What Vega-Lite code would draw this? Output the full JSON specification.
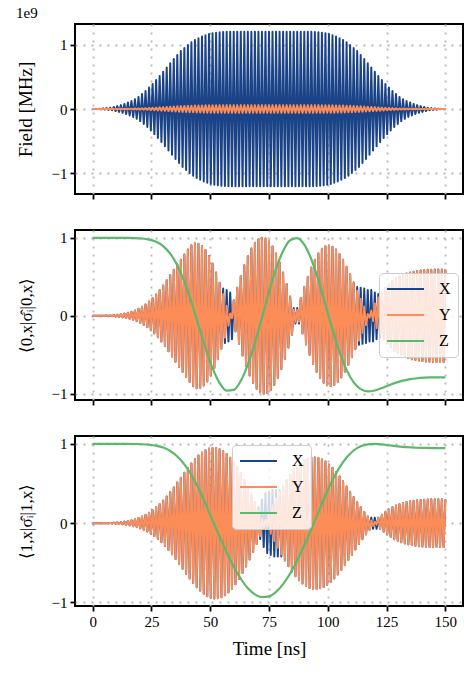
{
"$schema": "https://vega.github.io/schema/vega-lite/v6.json",
"background": "white",
"padding": {"left": 15, "top": 5, "right": 5, "bottom": 5},
"spacing": 28,
"config": {
  "font": "Liberation Serif",
  "view": {"stroke": "black", "strokeWidth": 2},
  "axis": {"domain": false, "grid": true, "gridColor": "#b8b8b8", "gridDash": [2, 6], "gridWidth": 1.8, "ticks": true, "tickColor": "black", "tickSize": 5, "tickWidth": 1.8, "labelFont": "Liberation Serif", "labelFontSize": 15, "labelColor": "black", "labelPadding": 3, "titleFont": "Liberation Serif", "titleFontSize": 19, "titleFontWeight": "normal", "titleColor": "black"},
  "axisX": {"labelFont": "Liberation Serif", "titleFont": "Liberation Serif", "titleFontWeight": "normal"},
  "axisY": {"labelFont": "Liberation Serif", "titleFont": "Liberation Serif", "titleFontWeight": "normal", "titlePadding": 16},
  "legend": {"title": null, "symbolType": "stroke", "symbolSize": 1369, "symbolStrokeWidth": 2, "clipHeight": 18, "rowPadding": 8, "labelOffset": 14, "labelFont": "Liberation Serif", "labelFontSize": 16, "labelColor": "black", "padding": 7, "fillColor": "rgba(255,255,255,0.8)", "strokeColor": "#cccccc", "cornerRadius": 4},
  "title": {"font": "Liberation Serif", "fontSize": 15, "fontWeight": "normal", "anchor": "start", "offset": 3, "color": "black"}
},
"resolve": {"scale": {"color": "independent"}, "legend": {"color": "independent"}},
"datasets": {
"osc": [
{"t":0,"a":0,"b":0,"c":0,"d":0,"e":0,"f":0},{"t":0.75,"a":0,"b":0,"c":0,"d":0,"e":0,"f":0},
{"t":1.5,"a":0.002,"b":0,"c":0,"d":0,"e":0,"f":0},{"t":2.25,"a":-0.002,"b":0,"c":0,"d":0,"e":0,"f":0},
{"t":3,"a":0.004,"b":0,"c":0.001,"d":0.001,"e":0,"f":0},{"t":3.75,"a":-0.004,"b":0,"c":-0.001,"d":-0.001,"e":0,"f":0},
{"t":4.5,"a":0.009,"b":0,"c":0.001,"d":0.001,"e":0.001,"f":0.001},{"t":5.25,"a":-0.009,"b":0,"c":-0.001,"d":-0.001,"e":-0.001,"f":-0.001},
{"t":6,"a":0.014,"b":0.001,"c":0.003,"d":0.003,"e":0.002,"f":0.002},{"t":6.75,"a":-0.014,"b":-0.001,"c":-0.003,"d":-0.003,"e":-0.002,"f":-0.002},
{"t":7.5,"a":0.02,"b":0.001,"c":0.005,"d":0.005,"e":0.004,"f":0.004},{"t":8.25,"a":-0.02,"b":-0.001,"c":-0.005,"d":-0.005,"e":-0.004,"f":-0.004},
{"t":9,"a":0.032,"b":0.002,"c":0.008,"d":0.008,"e":0.006,"f":0.006},{"t":9.75,"a":-0.032,"b":-0.002,"c":-0.008,"d":-0.008,"e":-0.006,"f":-0.006},
{"t":10.5,"a":0.045,"b":0.002,"c":0.013,"d":0.013,"e":0.01,"f":0.01},{"t":11.25,"a":-0.045,"b":-0.002,"c":-0.013,"d":-0.013,"e":-0.01,"f":-0.01},
{"t":12,"a":0.06,"b":0.003,"c":0.02,"d":0.02,"e":0.014,"f":0.014},{"t":12.75,"a":-0.06,"b":-0.003,"c":-0.02,"d":-0.02,"e":-0.014,"f":-0.014},
{"t":13.5,"a":0.079,"b":0.004,"c":0.028,"d":0.028,"e":0.02,"f":0.02},{"t":14.25,"a":-0.079,"b":-0.004,"c":-0.028,"d":-0.028,"e":-0.02,"f":-0.02},
{"t":15,"a":0.1,"b":0.005,"c":0.038,"d":0.038,"e":0.028,"f":0.028},{"t":15.75,"a":-0.1,"b":-0.005,"c":-0.038,"d":-0.038,"e":-0.028,"f":-0.028},
{"t":16.5,"a":0.124,"b":0.006,"c":0.053,"d":0.053,"e":0.038,"f":0.038},{"t":17.25,"a":-0.124,"b":-0.006,"c":-0.053,"d":-0.053,"e":-0.038,"f":-0.038},
{"t":18,"a":0.152,"b":0.008,"c":0.069,"d":0.069,"e":0.05,"f":0.05},{"t":18.75,"a":-0.152,"b":-0.008,"c":-0.069,"d":-0.069,"e":-0.05,"f":-0.05},
{"t":19.5,"a":0.188,"b":0.009,"c":0.09,"d":0.09,"e":0.065,"f":0.065},{"t":20.25,"a":-0.188,"b":-0.009,"c":-0.09,"d":-0.09,"e":-0.065,"f":-0.065},
{"t":21,"a":0.232,"b":0.012,"c":0.116,"d":0.116,"e":0.084,"f":0.084},{"t":21.75,"a":-0.232,"b":-0.012,"c":-0.116,"d":-0.116,"e":-0.084,"f":-0.084},
{"t":22.5,"a":0.28,"b":0.014,"c":0.145,"d":0.145,"e":0.105,"f":0.105},{"t":23.25,"a":-0.28,"b":-0.014,"c":-0.145,"d":-0.145,"e":-0.105,"f":-0.105},
{"t":24,"a":0.334,"b":0.017,"c":0.184,"d":0.184,"e":0.133,"f":0.133},{"t":24.75,"a":-0.334,"b":-0.017,"c":-0.184,"d":-0.184,"e":-0.133,"f":-0.133},
{"t":25.5,"a":0.39,"b":0.02,"c":0.225,"d":0.225,"e":0.163,"f":0.163},{"t":26.25,"a":-0.39,"b":-0.02,"c":-0.225,"d":-0.225,"e":-0.163,"f":-0.163},
{"t":27,"a":0.45,"b":0.023,"c":0.274,"d":0.274,"e":0.2,"f":0.2},{"t":27.75,"a":-0.45,"b":-0.023,"c":-0.274,"d":-0.274,"e":-0.2,"f":-0.2},
{"t":28.5,"a":0.514,"b":0.026,"c":0.329,"d":0.329,"e":0.241,"f":0.241},{"t":29.25,"a":-0.514,"b":-0.026,"c":-0.329,"d":-0.329,"e":-0.241,"f":-0.241},
{"t":30,"a":0.58,"b":0.029,"c":0.387,"d":0.387,"e":0.286,"f":0.286},{"t":30.75,"a":-0.58,"b":-0.029,"c":-0.387,"d":-0.387,"e":-0.286,"f":-0.286},
{"t":31.5,"a":0.646,"b":0.032,"c":0.455,"d":0.455,"e":0.338,"f":0.338},{"t":32.25,"a":-0.646,"b":-0.032,"c":-0.455,"d":-0.455,"e":-0.338,"f":-0.338},
{"t":33,"a":0.712,"b":0.036,"c":0.522,"d":0.522,"e":0.392,"f":0.392},{"t":33.75,"a":-0.712,"b":-0.036,"c":-0.522,"d":-0.522,"e":-0.392,"f":-0.392},
{"t":34.5,"a":0.778,"b":0.039,"c":0.59,"d":0.59,"e":0.451,"f":0.451},{"t":35.25,"a":-0.778,"b":-0.039,"c":-0.59,"d":-0.59,"e":-0.451,"f":-0.451},
{"t":36,"a":0.84,"b":0.042,"c":0.656,"d":0.656,"e":0.513,"f":0.513},{"t":36.75,"a":-0.84,"b":-0.042,"c":-0.656,"d":-0.656,"e":-0.513,"f":-0.513},
{"t":37.5,"a":0.9,"b":0.045,"c":0.719,"d":0.719,"e":0.574,"f":0.574},{"t":38.25,"a":-0.9,"b":-0.045,"c":-0.719,"d":-0.719,"e":-0.574,"f":-0.574},
{"t":39,"a":0.948,"b":0.047,"c":0.786,"d":0.786,"e":0.637,"f":0.637},{"t":39.75,"a":-0.948,"b":-0.047,"c":-0.786,"d":-0.786,"e":-0.637,"f":-0.637},
{"t":40.5,"a":0.994,"b":0.05,"c":0.849,"d":0.849,"e":0.697,"f":0.697},{"t":41.25,"a":-0.994,"b":-0.05,"c":-0.849,"d":-0.849,"e":-0.697,"f":-0.697},
{"t":42,"a":1.036,"b":0.052,"c":0.903,"d":0.903,"e":0.754,"f":0.754},{"t":42.75,"a":-1.036,"b":-0.052,"c":-0.903,"d":-0.903,"e":-0.754,"f":-0.754},
{"t":43.5,"a":1.07,"b":0.054,"c":0.93,"d":0.93,"e":0.808,"f":0.808},{"t":44.25,"a":-1.07,"b":-0.054,"c":-0.93,"d":-0.93,"e":-0.808,"f":-0.808},
{"t":45,"a":1.1,"b":0.055,"c":0.923,"d":0.923,"e":0.853,"f":0.853},{"t":45.75,"a":-1.1,"b":-0.055,"c":-0.923,"d":-0.923,"e":-0.853,"f":-0.853},
{"t":46.5,"a":1.124,"b":0.056,"c":0.894,"d":0.894,"e":0.891,"f":0.891},{"t":47.25,"a":-1.124,"b":-0.056,"c":-0.894,"d":-0.894,"e":-0.891,"f":-0.891},
{"t":48,"a":1.146,"b":0.057,"c":0.842,"d":0.842,"e":0.921,"f":0.921},{"t":48.75,"a":-1.146,"b":-0.057,"c":-0.842,"d":-0.842,"e":-0.921,"f":-0.921},
{"t":49.5,"a":1.164,"b":0.058,"c":0.767,"d":0.767,"e":0.941,"f":0.941},{"t":50.25,"a":-1.164,"b":-0.058,"c":-0.767,"d":-0.767,"e":-0.941,"f":-0.941},
{"t":51,"a":1.176,"b":0.059,"c":0.671,"d":0.671,"e":0.95,"f":0.95},{"t":51.75,"a":-1.176,"b":-0.059,"c":-0.671,"d":-0.671,"e":-0.95,"f":-0.95},
{"t":52.5,"a":1.185,"b":0.059,"c":0.556,"d":0.556,"e":0.947,"f":0.947},{"t":53.25,"a":-1.185,"b":-0.059,"c":-0.556,"d":-0.556,"e":-0.947,"f":-0.947},
{"t":54,"a":1.191,"b":0.06,"c":0.424,"d":0.424,"e":0.934,"f":0.934},{"t":54.75,"a":-1.191,"b":-0.06,"c":-0.424,"d":-0.424,"e":-0.934,"f":-0.934},
{"t":55.5,"a":1.196,"b":0.06,"c":0.35,"d":0.28,"e":0.909,"f":0.909},{"t":56.25,"a":-1.196,"b":-0.06,"c":-0.35,"d":-0.28,"e":-0.909,"f":-0.909},
{"t":57,"a":1.199,"b":0.06,"c":0.33,"d":0.128,"e":0.873,"f":0.873},{"t":57.75,"a":-1.199,"b":-0.06,"c":-0.33,"d":-0.128,"e":-0.873,"f":-0.873},
{"t":58.5,"a":1.2,"b":0.06,"c":0.3,"d":0.03,"e":0.827,"f":0.827},{"t":59.25,"a":-1.2,"b":-0.06,"c":-0.3,"d":-0.03,"e":-0.827,"f":-0.827},
{"t":60,"a":1.2,"b":0.06,"c":0.2,"d":0.197,"e":0.77,"f":0.77},{"t":60.75,"a":-1.2,"b":-0.06,"c":-0.2,"d":-0.197,"e":-0.77,"f":-0.77},
{"t":61.5,"a":1.2,"b":0.06,"c":0.358,"d":0.358,"e":0.704,"f":0.704},{"t":62.25,"a":-1.2,"b":-0.06,"c":-0.358,"d":-0.358,"e":-0.704,"f":-0.704},
{"t":63,"a":1.2,"b":0.06,"c":0.51,"d":0.51,"e":0.629,"f":0.629},{"t":63.75,"a":-1.2,"b":-0.06,"c":-0.51,"d":-0.51,"e":-0.629,"f":-0.629},
{"t":64.5,"a":1.2,"b":0.06,"c":0.647,"d":0.647,"e":0.546,"f":0.546},{"t":65.25,"a":-1.2,"b":-0.06,"c":-0.647,"d":-0.647,"e":-0.546,"f":-0.546},
{"t":66,"a":1.2,"b":0.06,"c":0.765,"d":0.765,"e":0.457,"f":0.457},{"t":66.75,"a":-1.2,"b":-0.06,"c":-0.765,"d":-0.765,"e":-0.457,"f":-0.457},
{"t":67.5,"a":1.2,"b":0.06,"c":0.862,"d":0.862,"e":0.362,"f":0.362},{"t":68.25,"a":-1.2,"b":-0.06,"c":-0.862,"d":-0.862,"e":-0.362,"f":-0.362},
{"t":69,"a":1.2,"b":0.06,"c":0.935,"d":0.935,"e":0.263,"f":0.263},{"t":69.75,"a":-1.2,"b":-0.06,"c":-0.935,"d":-0.935,"e":-0.263,"f":-0.263},
{"t":70.5,"a":1.2,"b":0.06,"c":0.981,"d":0.981,"e":0.2,"f":0.161},{"t":71.25,"a":-1.2,"b":-0.06,"c":-0.981,"d":-0.981,"e":-0.2,"f":-0.161},
{"t":72,"a":1.2,"b":0.06,"c":1,"d":1,"e":0.3,"f":0.056},{"t":72.75,"a":-1.2,"b":-0.06,"c":-1,"d":-1,"e":-0.3,"f":-0.056},
{"t":73.5,"a":1.2,"b":0.06,"c":0.99,"d":0.99,"e":0.38,"f":0.042},{"t":74.25,"a":-1.2,"b":-0.06,"c":-0.99,"d":-0.99,"e":-0.38,"f":-0.042},
{"t":75,"a":1.2,"b":0.06,"c":0.952,"d":0.952,"e":0.4,"f":0.134},{"t":75.75,"a":-1.2,"b":-0.06,"c":-0.952,"d":-0.952,"e":-0.4,"f":-0.134},
{"t":76.5,"a":1.2,"b":0.06,"c":0.887,"d":0.887,"e":0.42,"f":0.224},{"t":77.25,"a":-1.2,"b":-0.06,"c":-0.887,"d":-0.887,"e":-0.42,"f":-0.224},
{"t":78,"a":1.2,"b":0.06,"c":0.798,"d":0.798,"e":0.42,"f":0.31},{"t":78.75,"a":-1.2,"b":-0.06,"c":-0.798,"d":-0.798,"e":-0.42,"f":-0.31},
{"t":79.5,"a":1.2,"b":0.06,"c":0.685,"d":0.685,"e":0.42,"f":0.394},{"t":80.25,"a":-1.2,"b":-0.06,"c":-0.685,"d":-0.685,"e":-0.42,"f":-0.394},
{"t":81,"a":1.2,"b":0.06,"c":0.555,"d":0.555,"e":0.472,"f":0.472},{"t":81.75,"a":-1.2,"b":-0.06,"c":-0.555,"d":-0.555,"e":-0.472,"f":-0.472},
{"t":82.5,"a":1.2,"b":0.06,"c":0.408,"d":0.408,"e":0.544,"f":0.544},{"t":83.25,"a":-1.2,"b":-0.06,"c":-0.408,"d":-0.408,"e":-0.544,"f":-0.544},
{"t":84,"a":1.2,"b":0.06,"c":0.248,"d":0.248,"e":0.611,"f":0.611},{"t":84.75,"a":-1.2,"b":-0.06,"c":-0.248,"d":-0.248,"e":-0.611,"f":-0.611},
{"t":85.5,"a":1.2,"b":0.06,"c":0.1,"d":0.082,"e":0.669,"f":0.669},{"t":86.25,"a":-1.2,"b":-0.06,"c":-0.1,"d":-0.082,"e":-0.669,"f":-0.669},
{"t":87,"a":1.2,"b":0.06,"c":0.1,"d":0.077,"e":0.719,"f":0.719},{"t":87.75,"a":-1.2,"b":-0.06,"c":-0.1,"d":-0.077,"e":-0.719,"f":-0.719},
{"t":88.5,"a":1.2,"b":0.06,"c":0.227,"d":0.227,"e":0.76,"f":0.76},{"t":89.25,"a":-1.2,"b":-0.06,"c":-0.227,"d":-0.227,"e":-0.76,"f":-0.76},
{"t":90,"a":1.2,"b":0.06,"c":0.369,"d":0.369,"e":0.793,"f":0.793},{"t":90.75,"a":-1.2,"b":-0.06,"c":-0.369,"d":-0.369,"e":-0.793,"f":-0.793},
{"t":91.5,"a":1.2,"b":0.06,"c":0.501,"d":0.501,"e":0.815,"f":0.815},{"t":92.25,"a":-1.2,"b":-0.06,"c":-0.501,"d":-0.501,"e":-0.815,"f":-0.815},
{"t":93,"a":1.199,"b":0.06,"c":0.619,"d":0.619,"e":0.828,"f":0.828},{"t":93.75,"a":-1.199,"b":-0.06,"c":-0.619,"d":-0.619,"e":-0.828,"f":-0.828},
{"t":94.5,"a":1.196,"b":0.06,"c":0.72,"d":0.72,"e":0.83,"f":0.83},{"t":95.25,"a":-1.196,"b":-0.06,"c":-0.72,"d":-0.72,"e":-0.83,"f":-0.83},
{"t":96,"a":1.191,"b":0.06,"c":0.799,"d":0.799,"e":0.822,"f":0.822},{"t":96.75,"a":-1.191,"b":-0.06,"c":-0.799,"d":-0.799,"e":-0.822,"f":-0.822},
{"t":97.5,"a":1.185,"b":0.059,"c":0.858,"d":0.858,"e":0.804,"f":0.804},{"t":98.25,"a":-1.185,"b":-0.059,"c":-0.858,"d":-0.858,"e":-0.804,"f":-0.804},
{"t":99,"a":1.176,"b":0.059,"c":0.891,"d":0.891,"e":0.777,"f":0.777},{"t":99.75,"a":-1.176,"b":-0.059,"c":-0.891,"d":-0.891,"e":-0.777,"f":-0.777},
{"t":100.5,"a":1.164,"b":0.058,"c":0.9,"d":0.9,"e":0.741,"f":0.741},{"t":101.25,"a":-1.164,"b":-0.058,"c":-0.9,"d":-0.9,"e":-0.741,"f":-0.741},
{"t":102,"a":1.146,"b":0.057,"c":0.886,"d":0.886,"e":0.698,"f":0.698},{"t":102.75,"a":-1.146,"b":-0.057,"c":-0.886,"d":-0.886,"e":-0.698,"f":-0.698},
{"t":103.5,"a":1.124,"b":0.056,"c":0.849,"d":0.849,"e":0.647,"f":0.647},{"t":104.25,"a":-1.124,"b":-0.056,"c":-0.849,"d":-0.849,"e":-0.647,"f":-0.647},
{"t":105,"a":1.1,"b":0.055,"c":0.791,"d":0.791,"e":0.589,"f":0.589},{"t":105.75,"a":-1.1,"b":-0.055,"c":-0.791,"d":-0.791,"e":-0.589,"f":-0.589},
{"t":106.5,"a":1.07,"b":0.054,"c":0.717,"d":0.717,"e":0.529,"f":0.529},{"t":107.25,"a":-1.07,"b":-0.054,"c":-0.717,"d":-0.717,"e":-0.529,"f":-0.529},
{"t":108,"a":1.036,"b":0.052,"c":0.629,"d":0.629,"e":0.464,"f":0.464},{"t":108.75,"a":-1.036,"b":-0.052,"c":-0.629,"d":-0.629,"e":-0.464,"f":-0.464},
{"t":109.5,"a":0.994,"b":0.05,"c":0.532,"d":0.532,"e":0.397,"f":0.397},{"t":110.25,"a":-0.994,"b":-0.05,"c":-0.532,"d":-0.532,"e":-0.397,"f":-0.397},
{"t":111,"a":0.948,"b":0.047,"c":0.428,"d":0.428,"e":0.331,"f":0.331},{"t":111.75,"a":-0.948,"b":-0.047,"c":-0.428,"d":-0.428,"e":-0.331,"f":-0.331},
{"t":112.5,"a":0.9,"b":0.045,"c":0.37,"d":0.321,"e":0.263,"f":0.263},{"t":113.25,"a":-0.9,"b":-0.045,"c":-0.37,"d":-0.321,"e":-0.263,"f":-0.263},
{"t":114,"a":0.84,"b":0.042,"c":0.36,"d":0.219,"e":0.202,"f":0.202},{"t":114.75,"a":-0.84,"b":-0.042,"c":-0.36,"d":-0.219,"e":-0.202,"f":-0.202},
{"t":115.5,"a":0.778,"b":0.039,"c":0.35,"d":0.118,"e":0.141,"f":0.141},{"t":116.25,"a":-0.778,"b":-0.039,"c":-0.35,"d":-0.118,"e":-0.141,"f":-0.141},
{"t":117,"a":0.712,"b":0.036,"c":0.33,"d":0.024,"e":0.084,"f":0.084},{"t":117.75,"a":-0.712,"b":-0.036,"c":-0.33,"d":-0.024,"e":-0.084,"f":-0.084},
{"t":118.5,"a":0.646,"b":0.032,"c":0.33,"d":0.068,"e":0.07,"f":0.033},{"t":119.25,"a":-0.646,"b":-0.032,"c":-0.33,"d":-0.068,"e":-0.07,"f":-0.033},
{"t":120,"a":0.58,"b":0.029,"c":0.3,"d":0.158,"e":0.07,"f":0.018},{"t":120.75,"a":-0.58,"b":-0.029,"c":-0.3,"d":-0.158,"e":-0.07,"f":-0.018},
{"t":121.5,"a":0.514,"b":0.026,"c":0.28,"d":0.233,"e":0.07,"f":0.064},{"t":122.25,"a":-0.514,"b":-0.026,"c":-0.28,"d":-0.233,"e":-0.07,"f":-0.064},
{"t":123,"a":0.45,"b":0.023,"c":0.3,"d":0.3,"e":0.106,"f":0.106},{"t":123.75,"a":-0.45,"b":-0.023,"c":-0.3,"d":-0.3,"e":-0.106,"f":-0.106},
{"t":124.5,"a":0.39,"b":0.02,"c":0.357,"d":0.357,"e":0.143,"f":0.143},{"t":125.25,"a":-0.39,"b":-0.02,"c":-0.357,"d":-0.357,"e":-0.143,"f":-0.143},
{"t":126,"a":0.334,"b":0.017,"c":0.405,"d":0.405,"e":0.174,"f":0.174},{"t":126.75,"a":-0.334,"b":-0.017,"c":-0.405,"d":-0.405,"e":-0.174,"f":-0.174},
{"t":127.5,"a":0.28,"b":0.014,"c":0.447,"d":0.447,"e":0.202,"f":0.202},{"t":128.25,"a":-0.28,"b":-0.014,"c":-0.447,"d":-0.447,"e":-0.202,"f":-0.202},
{"t":129,"a":0.232,"b":0.012,"c":0.477,"d":0.477,"e":0.222,"f":0.222},{"t":129.75,"a":-0.232,"b":-0.012,"c":-0.477,"d":-0.477,"e":-0.222,"f":-0.222},
{"t":130.5,"a":0.188,"b":0.009,"c":0.504,"d":0.504,"e":0.24,"f":0.24},{"t":131.25,"a":-0.188,"b":-0.009,"c":-0.504,"d":-0.504,"e":-0.24,"f":-0.24},
{"t":132,"a":0.152,"b":0.008,"c":0.525,"d":0.525,"e":0.256,"f":0.256},{"t":132.75,"a":-0.152,"b":-0.008,"c":-0.525,"d":-0.525,"e":-0.256,"f":-0.256},
{"t":133.5,"a":0.124,"b":0.006,"c":0.542,"d":0.542,"e":0.267,"f":0.267},{"t":134.25,"a":-0.124,"b":-0.006,"c":-0.542,"d":-0.542,"e":-0.267,"f":-0.267},
{"t":135,"a":0.1,"b":0.005,"c":0.556,"d":0.556,"e":0.276,"f":0.276},{"t":135.75,"a":-0.1,"b":-0.005,"c":-0.556,"d":-0.556,"e":-0.276,"f":-0.276},
{"t":136.5,"a":0.079,"b":0.004,"c":0.566,"d":0.566,"e":0.283,"f":0.283},{"t":137.25,"a":-0.079,"b":-0.004,"c":-0.566,"d":-0.566,"e":-0.283,"f":-0.283},
{"t":138,"a":0.06,"b":0.003,"c":0.574,"d":0.574,"e":0.29,"f":0.29},{"t":138.75,"a":-0.06,"b":-0.003,"c":-0.574,"d":-0.574,"e":-0.29,"f":-0.29},
{"t":139.5,"a":0.045,"b":0.002,"c":0.58,"d":0.58,"e":0.294,"f":0.294},{"t":140.25,"a":-0.045,"b":-0.002,"c":-0.58,"d":-0.58,"e":-0.294,"f":-0.294},
{"t":141,"a":0.032,"b":0.002,"c":0.585,"d":0.585,"e":0.297,"f":0.297},{"t":141.75,"a":-0.032,"b":-0.002,"c":-0.585,"d":-0.585,"e":-0.297,"f":-0.297},
{"t":142.5,"a":0.02,"b":0.001,"c":0.589,"d":0.589,"e":0.299,"f":0.299},{"t":143.25,"a":-0.02,"b":-0.001,"c":-0.589,"d":-0.589,"e":-0.299,"f":-0.299},
{"t":144,"a":0.014,"b":0.001,"c":0.591,"d":0.591,"e":0.301,"f":0.301},{"t":144.75,"a":-0.014,"b":-0.001,"c":-0.591,"d":-0.591,"e":-0.301,"f":-0.301},
{"t":145.5,"a":0.009,"b":0,"c":0.592,"d":0.592,"e":0.301,"f":0.301},{"t":146.25,"a":-0.009,"b":0,"c":-0.592,"d":-0.592,"e":-0.301,"f":-0.301},
{"t":147,"a":0.004,"b":0,"c":0.592,"d":0.592,"e":0.302,"f":0.302},{"t":147.75,"a":-0.004,"b":0,"c":-0.592,"d":-0.592,"e":-0.302,"f":-0.302},
{"t":148.5,"a":0.002,"b":0,"c":0.593,"d":0.593,"e":0.302,"f":0.302},{"t":149.25,"a":-0.002,"b":0,"c":-0.593,"d":-0.593,"e":-0.302,"f":-0.302},
{"t":150,"a":0,"b":0,"c":0.593,"d":0.593,"e":0.302,"f":0.302}
],
"z": [
{"t":0,"m":1,"b":1},{"t":3,"m":1,"b":1},{"t":6,"m":1,"b":1},{"t":9,"m":1,"b":1},{"t":12,"m":1,"b":1},
{"t":15,"m":0.999,"b":1},{"t":18,"m":0.997,"b":0.999},{"t":21,"m":0.991,"b":0.996},{"t":24,"m":0.977,"b":0.99},
{"t":27,"m":0.949,"b":0.978},{"t":30,"m":0.894,"b":0.954},{"t":33,"m":0.797,"b":0.911},{"t":36,"m":0.647,"b":0.842},
{"t":39,"m":0.438,"b":0.742},{"t":42,"m":0.174,"b":0.608},{"t":45,"m":-0.119,"b":0.442},{"t":48,"m":-0.413,"b":0.246},
{"t":51,"m":-0.672,"b":0.034},{"t":54,"m":-0.863,"b":-0.171},{"t":57,"m":-0.961,"b":-0.368},{"t":60,"m":-0.951,"b":-0.549},
{"t":63,"m":-0.834,"b":-0.701},{"t":66,"m":-0.625,"b":-0.821},{"t":69,"m":-0.344,"b":-0.898},{"t":72,"m":-0.025,"b":-0.933},
{"t":75,"m":0.306,"b":-0.923},{"t":78,"m":0.602,"b":-0.867},{"t":81,"m":0.832,"b":-0.769},{"t":84,"m":0.969,"b":-0.635},
{"t":87,"m":0.996,"b":-0.467},{"t":90,"m":0.912,"b":-0.278},{"t":93,"m":0.725,"b":-0.076},{"t":96,"m":0.459,"b":0.14},
{"t":99,"m":0.144,"b":0.352},{"t":102,"m":-0.175,"b":0.543},{"t":105,"m":-0.463,"b":0.704},{"t":108,"m":-0.694,"b":0.829},
{"t":111,"m":-0.854,"b":0.917},{"t":114,"m":-0.941,"b":0.97},{"t":117,"m":-0.97,"b":0.995},{"t":120,"m":-0.958,"b":1},
{"t":123,"m":-0.927,"b":0.994},{"t":126,"m":-0.89,"b":0.983},{"t":129,"m":-0.857,"b":0.972},{"t":132,"m":-0.832,"b":0.963},
{"t":135,"m":-0.813,"b":0.957},{"t":138,"m":-0.801,"b":0.952},{"t":141,"m":-0.794,"b":0.95},{"t":144,"m":-0.79,"b":0.948},
{"t":147,"m":-0.789,"b":0.948},{"t":150,"m":-0.789,"b":0.948}
]
},
"vconcat": [
{
  "width": 388, "height": 170,
  "title": {"text": "1e9", "font": "Liberation Serif", "fontSize": 15, "fontWeight": "normal"},
  "layer": [
    {"data": {"name": "osc"}, "mark": {"type": "line", "color": "#1b4387", "strokeWidth": 2, "strokeJoin": "round"},
     "encoding": {
       "x": {"field": "t", "type": "quantitative", "title": null, "scale": {"domain": [-7.5, 157.5], "nice": false, "zero": false}, "axis": {"values": [0,25,50,75,100,125,150], "labels": false}},
       "y": {"field": "a", "type": "quantitative", "title": "Field [MHz]", "scale": {"domain": [-1.32, 1.32], "nice": false, "zero": false}, "axis": {"values": [-1,0,1], "format": "d", "labelFont": "Liberation Serif", "titleFont": "Liberation Serif", "titleFontWeight": "normal"}}
     }},
    {"data": {"name": "osc"}, "mark": {"type": "line", "color": "#fc8d59", "strokeWidth": 2, "strokeJoin": "round"},
     "encoding": {
       "x": {"field": "t", "type": "quantitative", "title": null},
       "y": {"field": "b", "type": "quantitative", "title": "Field [MHz]"}
     }}
  ]
},
{
  "width": 388, "height": 170,
  "layer": [
    {"data": {"name": "osc"}, "mark": {"type": "line", "strokeWidth": 2, "strokeJoin": "round"},
     "encoding": {
       "x": {"field": "t", "type": "quantitative", "title": null, "scale": {"domain": [-7.5, 157.5], "nice": false, "zero": false}, "axis": {"values": [0,25,50,75,100,125,150], "labels": false}},
       "y": {"field": "c", "type": "quantitative", "title": "⟨0,x|σ̂ᵢ|0,x⟩", "scale": {"domain": [-1.08, 1.1], "nice": false, "zero": false}, "axis": {"values": [-1,0,1], "format": "d", "titleFontSize": 17, "labelFont": "Liberation Serif", "titleFont": "Liberation Serif", "titleFontWeight": "normal"}},
       "color": {"datum": "X", "type": "nominal", "scale": {"domain": ["X","Y","Z"], "range": ["#1b4387","#fc8d59","#5cb86a"]}, "legend": {"orient": "none", "legendX": 304, "legendY": 43}}
     }},
    {"data": {"name": "osc"}, "mark": {"type": "line", "strokeWidth": 2, "strokeJoin": "round"},
     "encoding": {
       "x": {"field": "t", "type": "quantitative", "title": null},
       "y": {"field": "d", "type": "quantitative", "title": "⟨0,x|σ̂ᵢ|0,x⟩"},
       "color": {"datum": "Y", "type": "nominal"}
     }},
    {"data": {"name": "z"}, "mark": {"type": "line", "strokeWidth": 2.2, "interpolate": "monotone"},
     "encoding": {
       "x": {"field": "t", "type": "quantitative", "title": null},
       "y": {"field": "m", "type": "quantitative", "title": "⟨0,x|σ̂ᵢ|0,x⟩"},
       "color": {"datum": "Z", "type": "nominal"}
     }}
  ]
},
{
  "width": 388, "height": 170,
  "layer": [
    {"data": {"name": "osc"}, "mark": {"type": "line", "strokeWidth": 2, "strokeJoin": "round"},
     "encoding": {
       "x": {"field": "t", "type": "quantitative", "title": "Time [ns]", "scale": {"domain": [-7.5, 157.5], "nice": false, "zero": false}, "axis": {"values": [0,25,50,75,100,125,150], "titlePadding": 10, "labelFont": "Liberation Serif", "titleFont": "Liberation Serif", "titleFontWeight": "normal"}},
       "y": {"field": "e", "type": "quantitative", "title": "⟨1,x|σ̂ᵢ|1,x⟩", "scale": {"domain": [-1.045, 1.1], "nice": false, "zero": false}, "axis": {"values": [-1,0,1], "format": "d", "titleFontSize": 17, "labelFont": "Liberation Serif", "titleFont": "Liberation Serif", "titleFontWeight": "normal"}},
       "color": {"datum": "X", "type": "nominal", "scale": {"domain": ["X","Y","Z"], "range": ["#1b4387","#fc8d59","#5cb86a"]}, "legend": {"orient": "none", "legendX": 157, "legendY": 9}}
     }},
    {"data": {"name": "osc"}, "mark": {"type": "line", "strokeWidth": 2, "strokeJoin": "round"},
     "encoding": {
       "x": {"field": "t", "type": "quantitative", "title": "Time [ns]"},
       "y": {"field": "f", "type": "quantitative", "title": "⟨1,x|σ̂ᵢ|1,x⟩"},
       "color": {"datum": "Y", "type": "nominal"}
     }},
    {"data": {"name": "z"}, "mark": {"type": "line", "strokeWidth": 2.2, "interpolate": "monotone"},
     "encoding": {
       "x": {"field": "t", "type": "quantitative", "title": "Time [ns]"},
       "y": {"field": "b", "type": "quantitative", "title": "⟨1,x|σ̂ᵢ|1,x⟩"},
       "color": {"datum": "Z", "type": "nominal"}
     }}
  ]
}
]
}
